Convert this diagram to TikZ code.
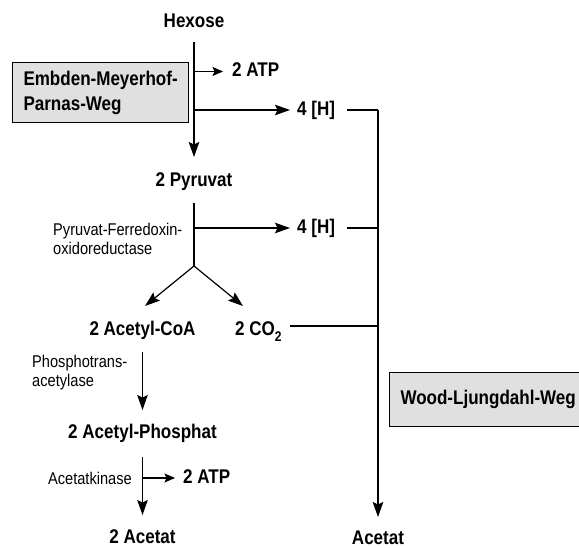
\documentclass[tikz,border=0pt]{standalone}
\usepackage{fontspec}
\setmainfont{Liberation Sans}[FakeStretch=0.86]
\usetikzlibrary{arrows.meta}
\definecolor{boxgray}{RGB}{224,224,224}

\tikzset{
  stoff/.style={font=\fontsize{19.8}{22}\selectfont\bfseries, text height=14.5pt, text depth=4pt, inner sep=1pt},
  enzym/.style={font=\fontsize{17}{19}\selectfont, align=left, inner sep=0pt},
  weg/.style={draw=black, line width=1pt, fill=boxgray, font=\fontsize{19.8}{24.5}\selectfont\bfseries, align=left, inner xsep=11pt},
  pfeil/.style={line width=1.2pt, -{Stealth[length=15pt,width=10.5pt,inset=2.5pt]}},
  kurzpfeil/.style={line width=1.2pt, -{Stealth[length=10.5pt,width=9pt,inset=2pt]}},
  linie/.style={line width=1.2pt}
}

\begin{document}
\begin{tikzpicture}[x=1pt, y=-1pt]
        \useasboundingbox (0,0) rectangle (579,548);
        % Stoffe
        \node[stoff] (hex) at (194,22) {Hexose};
        \node[stoff] (pyr) at (194,181.5) {2 Pyruvat};
        \node[stoff] (acoa) at (142.5,330) {2 Acetyl-CoA};
        \node[stoff, anchor=west] (co2) at (234,330) {2 CO\raisebox{-6.5pt}{\fontsize{14}{14}\selectfont 2}};
        \node[stoff] (acp) at (142.5,433.5) {2 Acetyl-Phosphat};
        \node[stoff] (act2) at (142.5,538.5) {2 Acetat};
        \node[stoff] (act) at (378,539.5) {Acetat};
        \node[stoff, anchor=west] (atp1) at (231,71.5) {2 ATP};
        \node[stoff, anchor=west] (h1) at (296,110) {4 [H]};
        \node[stoff, anchor=west] (h2) at (296,228) {4 [H]};
        \node[stoff, anchor=west] (atp3) at (182,478) {2 ATP};
        % Wege
        \node[weg, anchor=west, minimum width=176pt, minimum height=60pt] (emp) at (12,93) {Embden-Meyerhof-\\Parnas-Weg};
        \node[weg, anchor=west, minimum height=53pt] (wlw) at (389,399.5) {Wood-Ljungdahl-Weg};
        % Enzyme
        \node[enzym, anchor=west] (pfor) at (53,239) {Pyruvat-Ferredoxin-\\oxidoreductase};
        \node[enzym, anchor=west] (pta) at (32,373) {Phosphotrans-\\acetylase};
        \node[enzym, anchor=east] (ack) at (132,478) {Acetatkinase};
        % Abzweige
        \coordinate (k1) at (194,71.5);
        \coordinate (k2) at (194,110);
        \coordinate (k3) at (194,228);
        \coordinate (gabel) at (194,266);
        \coordinate (spitzeL) at (145,306);
        \coordinate (spitzeR) at (243,306);
        \coordinate (j1) at (378,110);
        \coordinate (j2) at (378,228);
        \coordinate (j3) at (378,326);
        \coordinate (k4) at (142.5,478);

        \draw[pfeil, shorten <=9.5pt, shorten >=14pt] (hex) -- (pyr);
        \draw[kurzpfeil, shorten >=8pt] (k1) -- (k1 -| atp1.west);
        \draw[pfeil, shorten >=6pt] (k2) -- (k2 -| h1.west);
        \draw[linie, shorten <=11pt] (h1.east) -- (j1);
        \draw[linie, shorten <=11pt] (pyr) -- (gabel);
        \draw[pfeil, shorten >=6pt] (k3) -- (k3 -| h2.west);
        \draw[linie, shorten <=11pt] (h2.east) -- (j2);
        \draw[pfeil] (gabel) -- (spitzeL);
        \draw[pfeil] (gabel) -- (spitzeR);
        \draw[linie, shorten <=7pt] (co2.east |- j3) -- (j3);
        \draw[pfeil, shorten >=12pt] (j1) -- (act);
        \draw[pfeil, shorten <=12pt, shorten >=13pt] (acoa) -- (acp);
        \draw[pfeil, shorten <=13pt, shorten >=13pt] (acp) -- (act2);
        \draw[kurzpfeil, shorten >=7pt] (k4) -- (k4 -| atp3.west);
\end{tikzpicture}
\end{document}
